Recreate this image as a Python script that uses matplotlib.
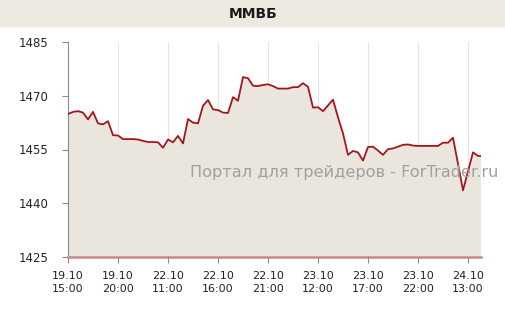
import numpy as np
import matplotlib
matplotlib.use('Agg')
from matplotlib import pyplot as plt
from matplotlib.patches import Rectangle

plt.rcParams['font.family'] = ['DejaVu Sans']

title = 'ММВБ'
watermark = 'Портал для трейдеров - ForTrader.ru'

# значения индекса (по точкам с графика)
values = [
    1464.9, 1465.5, 1465.7, 1465.3, 1463.4, 1465.5, 1462.3, 1462.0, 1462.9, 1459.0,
    1458.9, 1457.9, 1457.9, 1457.9, 1457.8, 1457.4, 1457.1, 1457.1, 1457.0, 1455.5,
    1457.8, 1457.0, 1458.8, 1456.7, 1463.5, 1462.5, 1462.3, 1467.2, 1468.8, 1466.2,
    1466.0, 1465.3, 1465.2, 1469.6, 1468.6, 1475.2, 1474.9, 1472.8, 1472.7, 1473.0,
    1473.2, 1472.7, 1472.0, 1472.0, 1472.0, 1472.4, 1472.4, 1473.5, 1472.5, 1466.7,
    1466.8, 1465.7, 1467.3, 1468.9, 1464.0, 1459.5, 1453.5, 1454.6, 1454.2, 1451.9,
    1455.7, 1455.8, 1454.7, 1453.5, 1455.1, 1455.3, 1455.8, 1456.3, 1456.4, 1456.1,
    1456.0, 1456.0, 1456.0, 1456.0, 1456.0, 1456.9, 1456.9, 1458.3, 1451.0, 1443.6,
    1448.9, 1454.2, 1453.2, 1453.2,
]
tick_labels = ['19.10\n15:00', '19.10\n20:00', '22.10\n11:00', '22.10\n16:00', '22.10\n21:00',
               '23.10\n12:00', '23.10\n17:00', '23.10\n22:00', '24.10\n13:00']
y_ticks = [1425, 1440, 1455, 1470, 1485]

x = np.arange(len(values))

fig = plt.figure(figsize=(5.06, 3.19), dpi=100)
fig.patch.set_facecolor('white')

# полоса заголовка
fig.patches.append(Rectangle((0, 1 - 26 / 319), 1, 26 / 319, transform=fig.transFigure,
                             facecolor='#ece9e0', edgecolor='none', zorder=0))
fig.patches.append(Rectangle((0, 1 - 28 / 319), 1, 2 / 319, transform=fig.transFigure,
                             facecolor='#f3f1ec', edgecolor='none', zorder=0))
fig.text(0.5, 1 - 14 / 319, title, ha='center', va='center', fontsize=10,
         fontweight='bold', color='#1a1a1a')

ax = fig.add_axes([68 / 506, 62 / 319, 413 / 506, 215 / 319])
ax.plot(x, values, color='#a3161c', linewidth=1.3, zorder=3)
ax.fill_between(x, values, 1425, facecolor='#ebe6dd', zorder=2)

ax.set_xlim(0, 82.6)
ax.set_ylim(1425, 1485)
ax.set_yticks(y_ticks)
ax.set_xticks(np.arange(0, 90, 10))
ax.set_xticklabels(tick_labels, linespacing=1.35)
for t in np.arange(10, 90, 10):
    ax.axvline(t, color='#e4e4e4', linewidth=0.8, zorder=1)

for s in ['top', 'right']:
    ax.spines[s].set_visible(False)
ax.spines['left'].set_color('#8a8a8a')
ax.spines['bottom'].set_color('#c48a8a')
ax.spines['bottom'].set_linewidth(1.8)
ax.spines['bottom'].set_zorder(4)
ax.tick_params(axis='y', colors='#8a8a8a', labelcolor='#222222', length=4, pad=10, labelsize=8.5)
ax.tick_params(axis='x', colors='#8a8a8a', labelcolor='#222222', length=4, pad=6, labelsize=8)

ax.text(0.668, 0.395, watermark, transform=ax.transAxes, ha='center', va='center',
        fontsize=11.6, color='#a0a0a0', zorder=5, clip_on=False)

fig.savefig('out.png', dpi=100)
